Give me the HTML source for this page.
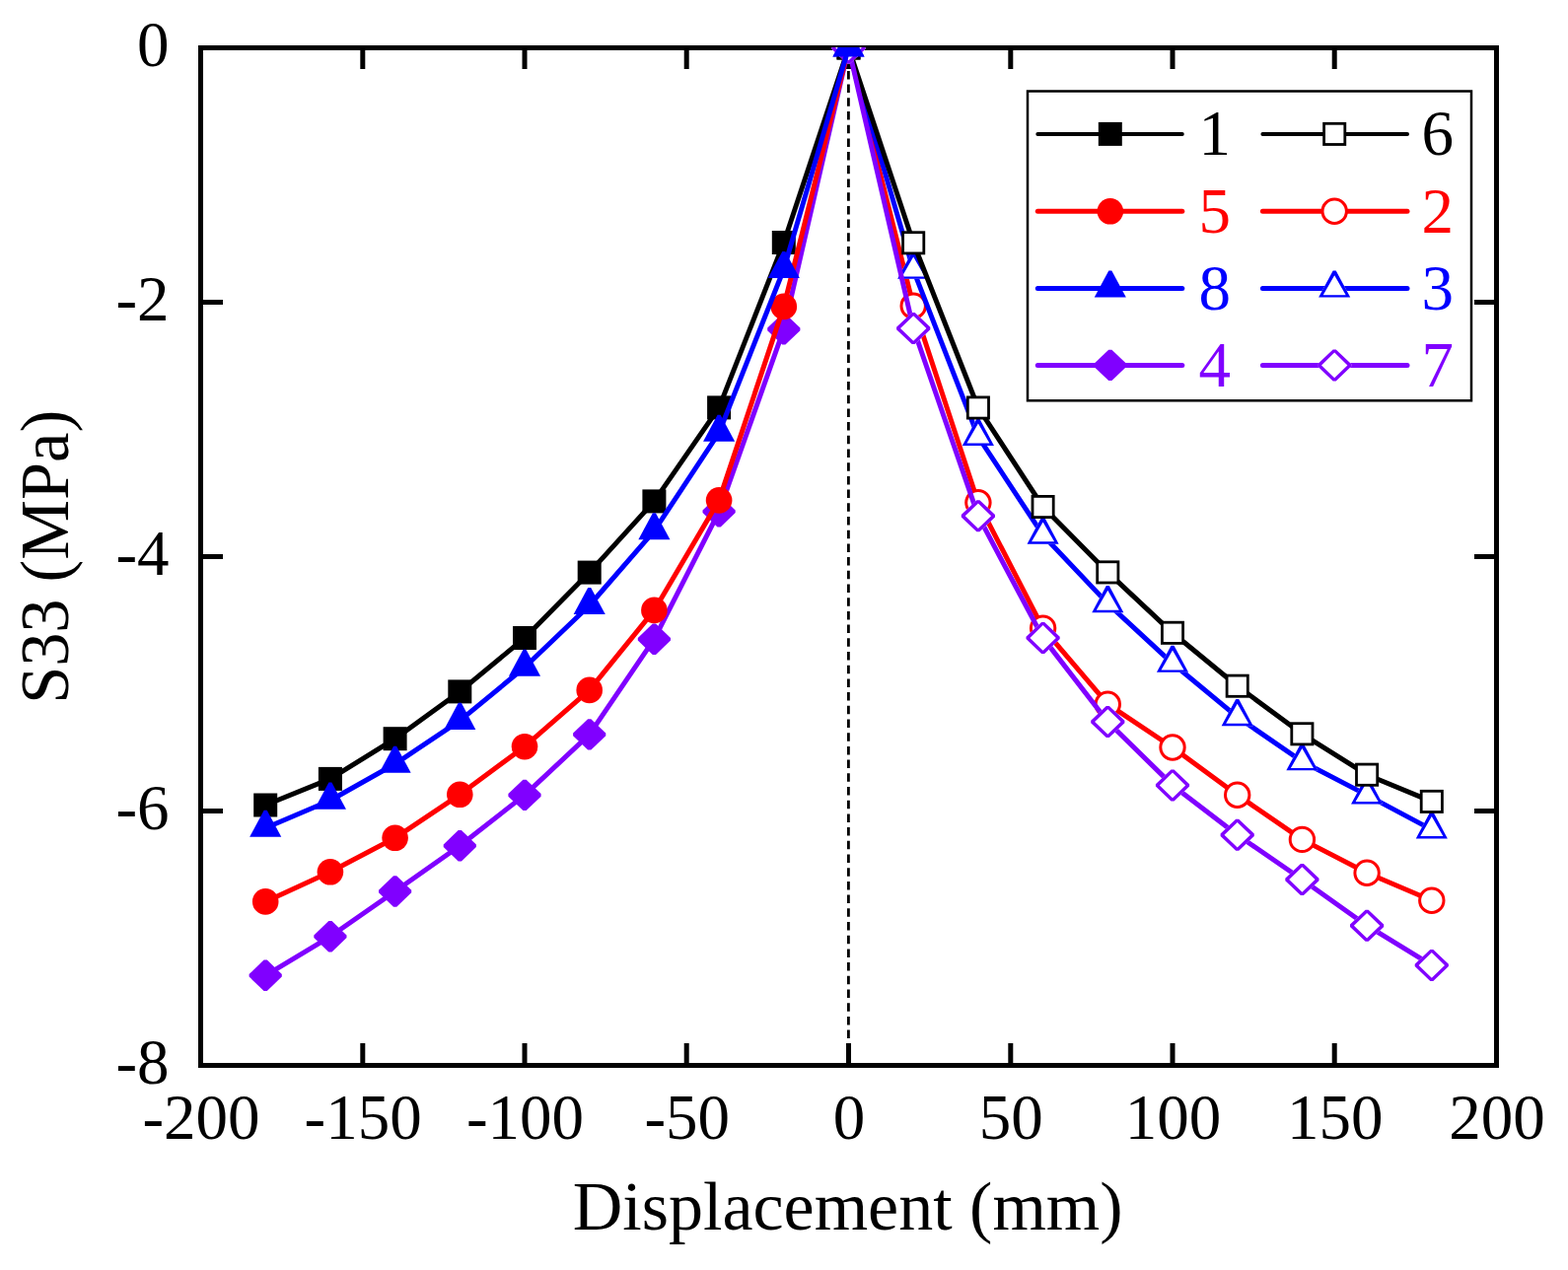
<!DOCTYPE html>
<html><head><meta charset="utf-8"><title>S33 vs Displacement</title>
<style>
html,body{margin:0;padding:0;background:#fff;}
svg{display:block;}
</style></head>
<body>
<svg width="1590" height="1288" viewBox="0 0 1590 1288">
<rect width="1590" height="1288" fill="#fff"/>
<defs><clipPath id="pc"><rect x="203.5" y="48" width="1314" height="1032.5"/></clipPath></defs>
<rect x="203.5" y="48.5" width="1314" height="1032" fill="none" stroke="#000" stroke-width="5"/>
<g stroke="#000" stroke-width="5"><line x1="367.8" y1="1080.5" x2="367.8" y2="1058.0" /><line x1="367.8" y1="48.5" x2="367.8" y2="70.0" /><line x1="532.0" y1="1080.5" x2="532.0" y2="1058.0" /><line x1="532.0" y1="48.5" x2="532.0" y2="70.0" /><line x1="696.2" y1="1080.5" x2="696.2" y2="1058.0" /><line x1="696.2" y1="48.5" x2="696.2" y2="70.0" /><line x1="860.5" y1="1080.5" x2="860.5" y2="1058.0" /><line x1="860.5" y1="48.5" x2="860.5" y2="70.0" /><line x1="1024.8" y1="1080.5" x2="1024.8" y2="1058.0" /><line x1="1024.8" y1="48.5" x2="1024.8" y2="70.0" /><line x1="1189.0" y1="1080.5" x2="1189.0" y2="1058.0" /><line x1="1189.0" y1="48.5" x2="1189.0" y2="70.0" /><line x1="1353.2" y1="1080.5" x2="1353.2" y2="1058.0" /><line x1="1353.2" y1="48.5" x2="1353.2" y2="70.0" /><line x1="203.5" y1="306.5" x2="226.0" y2="306.5" /><line x1="1517.5" y1="306.5" x2="1495.0" y2="306.5" /><line x1="203.5" y1="564.5" x2="226.0" y2="564.5" /><line x1="1517.5" y1="564.5" x2="1495.0" y2="564.5" /><line x1="203.5" y1="822.5" x2="226.0" y2="822.5" /><line x1="1517.5" y1="822.5" x2="1495.0" y2="822.5" /></g>
<line x1="860.4" y1="1080.5" x2="860.4" y2="48.5" stroke="#000" stroke-width="2.8" stroke-dasharray="8.5 5.2"/>
<g clip-path="url(#pc)"><polyline points="269.2,816.5 334.9,789.9 400.6,749.2 466.3,701.4 532.0,647.0 597.7,580.6 663.4,508.4 729.1,413.4 794.8,246.0 860.5,48.5" fill="none" stroke="#000000" stroke-width="5" stroke-linejoin="round"/><rect x="257.20" y="804.50" width="24" height="24" fill="#000000"/><rect x="322.90" y="777.90" width="24" height="24" fill="#000000"/><rect x="388.60" y="737.20" width="24" height="24" fill="#000000"/><rect x="454.30" y="689.40" width="24" height="24" fill="#000000"/><rect x="520.00" y="635.00" width="24" height="24" fill="#000000"/><rect x="585.70" y="568.60" width="24" height="24" fill="#000000"/><rect x="651.40" y="496.40" width="24" height="24" fill="#000000"/><rect x="717.10" y="401.40" width="24" height="24" fill="#000000"/><rect x="782.80" y="234.00" width="24" height="24" fill="#000000"/><rect x="848.50" y="36.50" width="24" height="24" fill="#000000"/><polyline points="860.5,48.5 926.2,310.2 991.9,509.8 1057.6,637.1 1123.3,714.2 1189.0,758.0 1254.7,806.2 1320.4,851.4 1386.1,885.3 1451.8,913.2" fill="none" stroke="#FF0000" stroke-width="5" stroke-linejoin="round"/><circle cx="860.50" cy="48.50" r="12.2" fill="#fff" stroke="#FF0000" stroke-width="3"/><circle cx="926.20" cy="310.20" r="12.2" fill="#fff" stroke="#FF0000" stroke-width="3"/><circle cx="991.90" cy="509.80" r="12.2" fill="#fff" stroke="#FF0000" stroke-width="3"/><circle cx="1057.60" cy="637.10" r="12.2" fill="#fff" stroke="#FF0000" stroke-width="3"/><circle cx="1123.30" cy="714.20" r="12.2" fill="#fff" stroke="#FF0000" stroke-width="3"/><circle cx="1189.00" cy="758.00" r="12.2" fill="#fff" stroke="#FF0000" stroke-width="3"/><circle cx="1254.70" cy="806.20" r="12.2" fill="#fff" stroke="#FF0000" stroke-width="3"/><circle cx="1320.40" cy="851.40" r="12.2" fill="#fff" stroke="#FF0000" stroke-width="3"/><circle cx="1386.10" cy="885.30" r="12.2" fill="#fff" stroke="#FF0000" stroke-width="3"/><circle cx="1451.80" cy="913.20" r="12.2" fill="#fff" stroke="#FF0000" stroke-width="3"/><polyline points="860.5,48.5 926.2,273.8 991.9,442.9 1057.6,542.7 1123.3,612.1 1189.0,672.8 1254.7,727.1 1320.4,772.3 1386.1,806.4 1451.8,841.4" fill="none" stroke="#0000FF" stroke-width="5" stroke-linejoin="round"/><polygon points="859.00,30.40 862.00,30.40 876.55,57.55 844.45,57.55" fill="#fff"/><path d="M859.00,30.40 862.00,30.40 876.55,57.55 844.45,57.55Z M860.50,35.20 872.00,55.15 849.00,55.15Z" fill="#0000FF" fill-rule="evenodd"/><polygon points="924.70,255.70 927.70,255.70 942.25,282.85 910.15,282.85" fill="#fff"/><path d="M924.70,255.70 927.70,255.70 942.25,282.85 910.15,282.85Z M926.20,260.50 937.70,280.45 914.70,280.45Z" fill="#0000FF" fill-rule="evenodd"/><polygon points="990.40,424.80 993.40,424.80 1007.95,451.95 975.85,451.95" fill="#fff"/><path d="M990.40,424.80 993.40,424.80 1007.95,451.95 975.85,451.95Z M991.90,429.60 1003.40,449.55 980.40,449.55Z" fill="#0000FF" fill-rule="evenodd"/><polygon points="1056.10,524.60 1059.10,524.60 1073.65,551.75 1041.55,551.75" fill="#fff"/><path d="M1056.10,524.60 1059.10,524.60 1073.65,551.75 1041.55,551.75Z M1057.60,529.40 1069.10,549.35 1046.10,549.35Z" fill="#0000FF" fill-rule="evenodd"/><polygon points="1121.80,594.00 1124.80,594.00 1139.35,621.15 1107.25,621.15" fill="#fff"/><path d="M1121.80,594.00 1124.80,594.00 1139.35,621.15 1107.25,621.15Z M1123.30,598.80 1134.80,618.75 1111.80,618.75Z" fill="#0000FF" fill-rule="evenodd"/><polygon points="1187.50,654.70 1190.50,654.70 1205.05,681.85 1172.95,681.85" fill="#fff"/><path d="M1187.50,654.70 1190.50,654.70 1205.05,681.85 1172.95,681.85Z M1189.00,659.50 1200.50,679.45 1177.50,679.45Z" fill="#0000FF" fill-rule="evenodd"/><polygon points="1253.20,709.00 1256.20,709.00 1270.75,736.15 1238.65,736.15" fill="#fff"/><path d="M1253.20,709.00 1256.20,709.00 1270.75,736.15 1238.65,736.15Z M1254.70,713.80 1266.20,733.75 1243.20,733.75Z" fill="#0000FF" fill-rule="evenodd"/><polygon points="1318.90,754.20 1321.90,754.20 1336.45,781.35 1304.35,781.35" fill="#fff"/><path d="M1318.90,754.20 1321.90,754.20 1336.45,781.35 1304.35,781.35Z M1320.40,759.00 1331.90,778.95 1308.90,778.95Z" fill="#0000FF" fill-rule="evenodd"/><polygon points="1384.60,788.30 1387.60,788.30 1402.15,815.45 1370.05,815.45" fill="#fff"/><path d="M1384.60,788.30 1387.60,788.30 1402.15,815.45 1370.05,815.45Z M1386.10,793.10 1397.60,813.05 1374.60,813.05Z" fill="#0000FF" fill-rule="evenodd"/><polygon points="1450.30,823.30 1453.30,823.30 1467.85,850.45 1435.75,850.45" fill="#fff"/><path d="M1450.30,823.30 1453.30,823.30 1467.85,850.45 1435.75,850.45Z M1451.80,828.10 1463.30,848.05 1440.30,848.05Z" fill="#0000FF" fill-rule="evenodd"/><polyline points="269.2,989.3 334.9,949.8 400.6,904.0 466.3,857.7 532.0,806.4 597.7,744.9 663.4,648.2 729.1,518.8 794.8,333.9 860.5,48.5" fill="none" stroke="#8000FF" stroke-width="5" stroke-linejoin="round"/><polygon points="267.60,973.60 270.80,973.60 285.80,988.02 285.80,990.58 270.80,1005.00 267.60,1005.00 252.60,990.58 252.60,988.02" fill="#8000FF"/><polygon points="333.30,934.10 336.50,934.10 351.50,948.52 351.50,951.08 336.50,965.50 333.30,965.50 318.30,951.08 318.30,948.52" fill="#8000FF"/><polygon points="399.00,888.30 402.20,888.30 417.20,902.72 417.20,905.28 402.20,919.70 399.00,919.70 384.00,905.28 384.00,902.72" fill="#8000FF"/><polygon points="464.70,842.00 467.90,842.00 482.90,856.42 482.90,858.98 467.90,873.40 464.70,873.40 449.70,858.98 449.70,856.42" fill="#8000FF"/><polygon points="530.40,790.70 533.60,790.70 548.60,805.12 548.60,807.68 533.60,822.10 530.40,822.10 515.40,807.68 515.40,805.12" fill="#8000FF"/><polygon points="596.10,729.20 599.30,729.20 614.30,743.62 614.30,746.18 599.30,760.60 596.10,760.60 581.10,746.18 581.10,743.62" fill="#8000FF"/><polygon points="661.80,632.50 665.00,632.50 680.00,646.92 680.00,649.48 665.00,663.90 661.80,663.90 646.80,649.48 646.80,646.92" fill="#8000FF"/><polygon points="727.50,503.10 730.70,503.10 745.70,517.52 745.70,520.08 730.70,534.50 727.50,534.50 712.50,520.08 712.50,517.52" fill="#8000FF"/><polygon points="793.20,318.20 796.40,318.20 811.40,332.62 811.40,335.18 796.40,349.60 793.20,349.60 778.20,335.18 778.20,332.62" fill="#8000FF"/><polygon points="858.90,32.80 862.10,32.80 877.10,47.22 877.10,49.78 862.10,64.20 858.90,64.20 843.90,49.78 843.90,47.22" fill="#8000FF"/><polyline points="269.2,914.4 334.9,884.3 400.6,849.8 466.3,805.8 532.0,757.2 597.7,699.9 663.4,618.9 729.1,507.4 794.8,310.9 860.5,48.5" fill="none" stroke="#FF0000" stroke-width="5" stroke-linejoin="round"/><circle cx="269.20" cy="914.40" r="13.3" fill="#FF0000"/><circle cx="334.90" cy="884.30" r="13.3" fill="#FF0000"/><circle cx="400.60" cy="849.80" r="13.3" fill="#FF0000"/><circle cx="466.30" cy="805.80" r="13.3" fill="#FF0000"/><circle cx="532.00" cy="757.20" r="13.3" fill="#FF0000"/><circle cx="597.70" cy="699.90" r="13.3" fill="#FF0000"/><circle cx="663.40" cy="618.90" r="13.3" fill="#FF0000"/><circle cx="729.10" cy="507.40" r="13.3" fill="#FF0000"/><circle cx="794.80" cy="310.90" r="13.3" fill="#FF0000"/><circle cx="860.50" cy="48.50" r="13.3" fill="#FF0000"/><polyline points="860.5,48.5 926.2,246.3 991.9,413.5 1057.6,514.0 1123.3,580.4 1189.0,641.8 1254.7,695.7 1320.4,744.3 1386.1,785.7 1451.8,812.9" fill="none" stroke="#000000" stroke-width="5" stroke-linejoin="round"/><rect x="849.90" y="37.90" width="21.2" height="21.2" fill="#fff" stroke="#000000" stroke-width="2.8"/><rect x="915.60" y="235.70" width="21.2" height="21.2" fill="#fff" stroke="#000000" stroke-width="2.8"/><rect x="981.30" y="402.90" width="21.2" height="21.2" fill="#fff" stroke="#000000" stroke-width="2.8"/><rect x="1047.00" y="503.40" width="21.2" height="21.2" fill="#fff" stroke="#000000" stroke-width="2.8"/><rect x="1112.70" y="569.80" width="21.2" height="21.2" fill="#fff" stroke="#000000" stroke-width="2.8"/><rect x="1178.40" y="631.20" width="21.2" height="21.2" fill="#fff" stroke="#000000" stroke-width="2.8"/><rect x="1244.10" y="685.10" width="21.2" height="21.2" fill="#fff" stroke="#000000" stroke-width="2.8"/><rect x="1309.80" y="733.70" width="21.2" height="21.2" fill="#fff" stroke="#000000" stroke-width="2.8"/><rect x="1375.50" y="775.10" width="21.2" height="21.2" fill="#fff" stroke="#000000" stroke-width="2.8"/><rect x="1441.20" y="802.30" width="21.2" height="21.2" fill="#fff" stroke="#000000" stroke-width="2.8"/><polyline points="860.5,48.5 926.2,333.0 991.9,523.2 1057.6,646.9 1123.3,732.0 1189.0,796.4 1254.7,846.8 1320.4,892.0 1386.1,938.7 1451.8,978.9" fill="none" stroke="#8000FF" stroke-width="5" stroke-linejoin="round"/><polygon points="859.00,32.50 862.00,32.50 877.60,47.30 877.60,49.70 862.00,64.50 859.00,64.50 843.40,49.70 843.40,47.30" fill="#fff"/><path d="M859.00,32.50 862.00,32.50 877.60,47.30 877.60,49.70 862.00,64.50 859.00,64.50 843.40,49.70 843.40,47.30Z M860.50,35.70 873.70,48.50 860.50,61.30 847.30,48.50Z" fill="#8000FF" fill-rule="evenodd"/><polygon points="924.70,317.00 927.70,317.00 943.30,331.80 943.30,334.20 927.70,349.00 924.70,349.00 909.10,334.20 909.10,331.80" fill="#fff"/><path d="M924.70,317.00 927.70,317.00 943.30,331.80 943.30,334.20 927.70,349.00 924.70,349.00 909.10,334.20 909.10,331.80Z M926.20,320.20 939.40,333.00 926.20,345.80 913.00,333.00Z" fill="#8000FF" fill-rule="evenodd"/><polygon points="990.40,507.20 993.40,507.20 1009.00,522.00 1009.00,524.40 993.40,539.20 990.40,539.20 974.80,524.40 974.80,522.00" fill="#fff"/><path d="M990.40,507.20 993.40,507.20 1009.00,522.00 1009.00,524.40 993.40,539.20 990.40,539.20 974.80,524.40 974.80,522.00Z M991.90,510.40 1005.10,523.20 991.90,536.00 978.70,523.20Z" fill="#8000FF" fill-rule="evenodd"/><polygon points="1056.10,630.90 1059.10,630.90 1074.70,645.70 1074.70,648.10 1059.10,662.90 1056.10,662.90 1040.50,648.10 1040.50,645.70" fill="#fff"/><path d="M1056.10,630.90 1059.10,630.90 1074.70,645.70 1074.70,648.10 1059.10,662.90 1056.10,662.90 1040.50,648.10 1040.50,645.70Z M1057.60,634.10 1070.80,646.90 1057.60,659.70 1044.40,646.90Z" fill="#8000FF" fill-rule="evenodd"/><polygon points="1121.80,716.00 1124.80,716.00 1140.40,730.80 1140.40,733.20 1124.80,748.00 1121.80,748.00 1106.20,733.20 1106.20,730.80" fill="#fff"/><path d="M1121.80,716.00 1124.80,716.00 1140.40,730.80 1140.40,733.20 1124.80,748.00 1121.80,748.00 1106.20,733.20 1106.20,730.80Z M1123.30,719.20 1136.50,732.00 1123.30,744.80 1110.10,732.00Z" fill="#8000FF" fill-rule="evenodd"/><polygon points="1187.50,780.40 1190.50,780.40 1206.10,795.20 1206.10,797.60 1190.50,812.40 1187.50,812.40 1171.90,797.60 1171.90,795.20" fill="#fff"/><path d="M1187.50,780.40 1190.50,780.40 1206.10,795.20 1206.10,797.60 1190.50,812.40 1187.50,812.40 1171.90,797.60 1171.90,795.20Z M1189.00,783.60 1202.20,796.40 1189.00,809.20 1175.80,796.40Z" fill="#8000FF" fill-rule="evenodd"/><polygon points="1253.20,830.80 1256.20,830.80 1271.80,845.60 1271.80,848.00 1256.20,862.80 1253.20,862.80 1237.60,848.00 1237.60,845.60" fill="#fff"/><path d="M1253.20,830.80 1256.20,830.80 1271.80,845.60 1271.80,848.00 1256.20,862.80 1253.20,862.80 1237.60,848.00 1237.60,845.60Z M1254.70,834.00 1267.90,846.80 1254.70,859.60 1241.50,846.80Z" fill="#8000FF" fill-rule="evenodd"/><polygon points="1318.90,876.00 1321.90,876.00 1337.50,890.80 1337.50,893.20 1321.90,908.00 1318.90,908.00 1303.30,893.20 1303.30,890.80" fill="#fff"/><path d="M1318.90,876.00 1321.90,876.00 1337.50,890.80 1337.50,893.20 1321.90,908.00 1318.90,908.00 1303.30,893.20 1303.30,890.80Z M1320.40,879.20 1333.60,892.00 1320.40,904.80 1307.20,892.00Z" fill="#8000FF" fill-rule="evenodd"/><polygon points="1384.60,922.70 1387.60,922.70 1403.20,937.50 1403.20,939.90 1387.60,954.70 1384.60,954.70 1369.00,939.90 1369.00,937.50" fill="#fff"/><path d="M1384.60,922.70 1387.60,922.70 1403.20,937.50 1403.20,939.90 1387.60,954.70 1384.60,954.70 1369.00,939.90 1369.00,937.50Z M1386.10,925.90 1399.30,938.70 1386.10,951.50 1372.90,938.70Z" fill="#8000FF" fill-rule="evenodd"/><polygon points="1450.30,962.90 1453.30,962.90 1468.90,977.70 1468.90,980.10 1453.30,994.90 1450.30,994.90 1434.70,980.10 1434.70,977.70" fill="#fff"/><path d="M1450.30,962.90 1453.30,962.90 1468.90,977.70 1468.90,980.10 1453.30,994.90 1450.30,994.90 1434.70,980.10 1434.70,977.70Z M1451.80,966.10 1465.00,978.90 1451.80,991.70 1438.60,978.90Z" fill="#8000FF" fill-rule="evenodd"/><polyline points="269.2,839.8 334.9,811.7 400.6,774.8 466.3,730.9 532.0,676.8 597.7,614.0 663.4,538.3 729.1,438.8 794.8,273.0 860.5,48.5" fill="none" stroke="#0000FF" stroke-width="5" stroke-linejoin="round"/><polygon points="267.70,821.70 270.70,821.70 285.25,848.85 253.15,848.85" fill="#0000FF"/><polygon points="333.40,793.60 336.40,793.60 350.95,820.75 318.85,820.75" fill="#0000FF"/><polygon points="399.10,756.70 402.10,756.70 416.65,783.85 384.55,783.85" fill="#0000FF"/><polygon points="464.80,712.80 467.80,712.80 482.35,739.95 450.25,739.95" fill="#0000FF"/><polygon points="530.50,658.70 533.50,658.70 548.05,685.85 515.95,685.85" fill="#0000FF"/><polygon points="596.20,595.90 599.20,595.90 613.75,623.05 581.65,623.05" fill="#0000FF"/><polygon points="661.90,520.20 664.90,520.20 679.45,547.35 647.35,547.35" fill="#0000FF"/><polygon points="727.60,420.70 730.60,420.70 745.15,447.85 713.05,447.85" fill="#0000FF"/><polygon points="793.30,254.90 796.30,254.90 810.85,282.05 778.75,282.05" fill="#0000FF"/><polygon points="859.00,30.40 862.00,30.40 876.55,57.55 844.45,57.55" fill="#0000FF"/></g>
<g font-family="'Liberation Serif','Times New Roman',serif" font-size="65" fill="#000"><text x="204.0" y="1155" text-anchor="middle">-200</text><text x="368.2" y="1155" text-anchor="middle">-150</text><text x="532.5" y="1155" text-anchor="middle">-100</text><text x="696.8" y="1155" text-anchor="middle">-50</text><text x="861.0" y="1155" text-anchor="middle">0</text><text x="1025.2" y="1155" text-anchor="middle">50</text><text x="1189.5" y="1155" text-anchor="middle">100</text><text x="1353.8" y="1155" text-anchor="middle">150</text><text x="1518.0" y="1155" text-anchor="middle">200</text><text x="171.6" y="67.0" text-anchor="end">0</text><text x="171.6" y="325.0" text-anchor="end">-2</text><text x="171.6" y="583.0" text-anchor="end">-4</text><text x="171.6" y="841.0" text-anchor="end">-6</text><text x="171.6" y="1099.0" text-anchor="end">-8</text></g>
<g font-family="'Liberation Serif','Times New Roman',serif" font-size="65"><rect x="1042" y="92.5" width="450" height="313.8" fill="#fff" stroke="#000" stroke-width="2.5"/><line x1="1052.3" y1="135.9" x2="1198.8" y2="135.9" stroke="#000000" stroke-width="4" stroke-linecap="round"/><rect x="1113.80" y="123.90" width="24" height="24" fill="#000000"/><text x="1215.5" y="157.1" fill="#000000">1</text><line x1="1280.4" y1="135.9" x2="1427.0" y2="135.9" stroke="#000000" stroke-width="4" stroke-linecap="round"/><rect x="1342.60" y="125.30" width="21.2" height="21.2" fill="#fff" stroke="#000000" stroke-width="2.8"/><text x="1441.5" y="157.1" fill="#000000">6</text><line x1="1052.3" y1="214.3" x2="1198.8" y2="214.3" stroke="#FF0000" stroke-width="5" stroke-linecap="round"/><circle cx="1125.80" cy="214.30" r="13.3" fill="#FF0000"/><text x="1215.5" y="235.5" fill="#FF0000">5</text><line x1="1280.4" y1="214.3" x2="1427.0" y2="214.3" stroke="#FF0000" stroke-width="5" stroke-linecap="round"/><circle cx="1353.20" cy="214.30" r="12.2" fill="#fff" stroke="#FF0000" stroke-width="3"/><text x="1441.5" y="235.5" fill="#FF0000">2</text><line x1="1052.3" y1="292.5" x2="1198.8" y2="292.5" stroke="#0000FF" stroke-width="5" stroke-linecap="round"/><polygon points="1124.30,274.40 1127.30,274.40 1141.85,301.55 1109.75,301.55" fill="#0000FF"/><text x="1215.5" y="313.7" fill="#0000FF">8</text><line x1="1280.4" y1="292.5" x2="1427.0" y2="292.5" stroke="#0000FF" stroke-width="5" stroke-linecap="round"/><polygon points="1351.70,274.40 1354.70,274.40 1369.25,301.55 1337.15,301.55" fill="#fff"/><path d="M1351.70,274.40 1354.70,274.40 1369.25,301.55 1337.15,301.55Z M1353.20,279.20 1364.70,299.15 1341.70,299.15Z" fill="#0000FF" fill-rule="evenodd"/><text x="1441.5" y="313.7" fill="#0000FF">3</text><line x1="1052.3" y1="370.4" x2="1198.8" y2="370.4" stroke="#8000FF" stroke-width="5" stroke-linecap="round"/><polygon points="1124.20,354.70 1127.40,354.70 1142.40,369.12 1142.40,371.68 1127.40,386.10 1124.20,386.10 1109.20,371.68 1109.20,369.12" fill="#8000FF"/><text x="1215.5" y="391.6" fill="#8000FF">4</text><line x1="1280.4" y1="370.4" x2="1427.0" y2="370.4" stroke="#8000FF" stroke-width="5" stroke-linecap="round"/><polygon points="1351.70,354.40 1354.70,354.40 1370.30,369.20 1370.30,371.60 1354.70,386.40 1351.70,386.40 1336.10,371.60 1336.10,369.20" fill="#fff"/><path d="M1351.70,354.40 1354.70,354.40 1370.30,369.20 1370.30,371.60 1354.70,386.40 1351.70,386.40 1336.10,371.60 1336.10,369.20Z M1353.20,357.60 1366.40,370.40 1353.20,383.20 1340.00,370.40Z" fill="#8000FF" fill-rule="evenodd"/><text x="1441.5" y="391.6" fill="#8000FF">7</text></g>
<text font-family="'Liberation Serif','Times New Roman',serif" font-size="70" x="859.7" y="1247" text-anchor="middle" fill="#000">Displacement (mm)</text>
<text font-family="'Liberation Serif','Times New Roman',serif" font-size="70" transform="translate(68.5,564.8) rotate(-90)" text-anchor="middle" fill="#000" textLength="298" lengthAdjust="spacingAndGlyphs">S33 (MPa)</text>
</svg>
</body></html>
